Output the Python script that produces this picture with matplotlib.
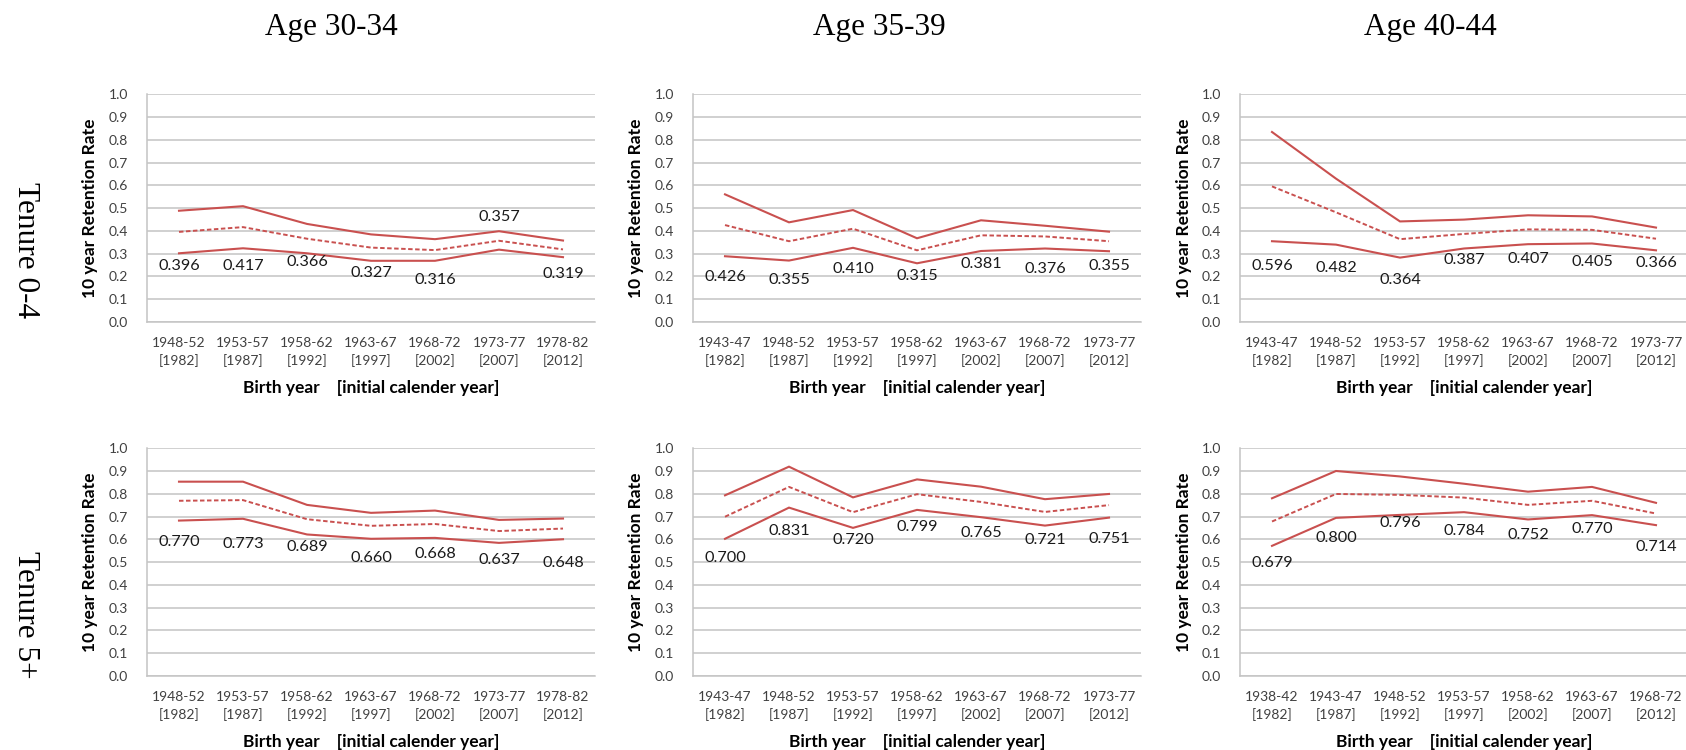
import matplotlib
matplotlib.use("Agg")
import matplotlib.pyplot as plt
import numpy as np

# ---------------- data ----------------
AGE_GROUPS = ["Age 30-34", "Age 35-39", "Age 40-44"]
TENURES = ["Tenure 0-4", "Tenure 5+"]
CAL_YEARS = ["[1982]", "[1987]", "[1992]", "[1997]", "[2002]", "[2007]", "[2012]"]

BIRTH_A3034 = ["1948-52", "1953-57", "1958-62", "1963-67", "1968-72", "1973-77", "1978-82"]
BIRTH_A3539 = ["1943-47", "1948-52", "1953-57", "1958-62", "1963-67", "1968-72", "1973-77"]
BIRTH_A4044_T04 = ["1943-47", "1948-52", "1953-57", "1958-62", "1963-67", "1968-72", "1973-77"]
BIRTH_A4044_T5 = ["1938-42", "1943-47", "1948-52", "1953-57", "1958-62", "1963-67", "1968-72"]

# Tenure 0-4
est_t04_a3034 = [0.396, 0.417, 0.366, 0.327, 0.316, 0.357, 0.319]
upp_t04_a3034 = [0.489, 0.509, 0.431, 0.385, 0.364, 0.399, 0.358]
low_t04_a3034 = [0.302, 0.324, 0.302, 0.269, 0.269, 0.318, 0.285]

est_t04_a3539 = [0.426, 0.355, 0.410, 0.315, 0.381, 0.376, 0.355]
upp_t04_a3539 = [0.561, 0.438, 0.492, 0.368, 0.447, 0.423, 0.397]
low_t04_a3539 = [0.289, 0.270, 0.326, 0.258, 0.312, 0.323, 0.311]

est_t04_a4044 = [0.596, 0.482, 0.364, 0.387, 0.407, 0.405, 0.366]
upp_t04_a4044 = [0.835, 0.630, 0.442, 0.450, 0.469, 0.464, 0.415]
low_t04_a4044 = [0.355, 0.340, 0.283, 0.323, 0.342, 0.345, 0.315]

# Tenure 5+
est_t5_a3034 = [0.770, 0.773, 0.689, 0.660, 0.668, 0.637, 0.648]
upp_t5_a3034 = [0.854, 0.854, 0.752, 0.717, 0.727, 0.686, 0.692]
low_t5_a3034 = [0.683, 0.691, 0.622, 0.603, 0.607, 0.585, 0.601]

est_t5_a3539 = [0.700, 0.831, 0.720, 0.799, 0.765, 0.721, 0.751]
upp_t5_a3539 = [0.794, 0.920, 0.785, 0.864, 0.832, 0.777, 0.800]
low_t5_a3539 = [0.603, 0.740, 0.651, 0.730, 0.698, 0.661, 0.696]

est_t5_a4044 = [0.679, 0.800, 0.796, 0.784, 0.752, 0.770, 0.714]
upp_t5_a4044 = [0.781, 0.901, 0.877, 0.845, 0.810, 0.831, 0.761]
low_t5_a4044 = [0.572, 0.695, 0.708, 0.720, 0.688, 0.707, 0.663]

# ---------------- layout (label placement, in axis units) ----------------
LABEL_Y = {
    (0, 0): [0.248, 0.248, 0.263, 0.215, 0.185, 0.463, 0.212],
    (0, 1): [0.197, 0.185, 0.231, 0.201, 0.253, 0.235, 0.248],
    (0, 2): [0.245, 0.236, 0.184, 0.274, 0.276, 0.263, 0.260],
    (1, 0): [0.588, 0.581, 0.566, 0.518, 0.534, 0.511, 0.498],
    (1, 1): [0.520, 0.639, 0.599, 0.654, 0.629, 0.596, 0.603],
    (1, 2): [0.498, 0.607, 0.672, 0.639, 0.618, 0.644, 0.566],
}

PANELS = {
    (0, 0): (BIRTH_A3034, est_t04_a3034, upp_t04_a3034, low_t04_a3034),
    (0, 1): (BIRTH_A3539, est_t04_a3539, upp_t04_a3539, low_t04_a3539),
    (0, 2): (BIRTH_A4044_T04, est_t04_a4044, upp_t04_a4044, low_t04_a4044),
    (1, 0): (BIRTH_A3034, est_t5_a3034, upp_t5_a3034, low_t5_a3034),
    (1, 1): (BIRTH_A3539, est_t5_a3539, upp_t5_a3539, low_t5_a3539),
    (1, 2): (BIRTH_A4044_T5, est_t5_a4044, upp_t5_a4044, low_t5_a4044),
}

W_PX, H_PX = 1686, 750
RED = "#C9504F"
GRID = "#c4c4c4"
SANS = ["Lato", "DejaVu Sans"]
SERIF = ["Liberation Serif", "DejaVu Serif"]

fig = plt.figure(figsize=(W_PX / 100, H_PX / 100), dpi=100)

col_left = [147, 693, 1240]
row_top = [94, 448]
ax_w, ax_h = 448, 228

for (r, c), (births, est, upp, low) in PANELS.items():
    L = col_left[c] / W_PX
    B = 1 - (row_top[r] + ax_h) / H_PX
    ax = fig.add_axes([L, B, ax_w / W_PX, ax_h / H_PX])
    x = np.arange(len(births))
    ax.plot(x, upp, color=RED, lw=1.5, solid_joinstyle="miter")
    ax.plot(x, low, color=RED, lw=1.5, solid_joinstyle="miter")
    ax.plot(x, est, color=RED, lw=1.4, ls=(0, (2.3, 1.3)))
    for i, v in enumerate(est):
        ax.text(x[i], LABEL_Y[(r, c)][i], f"{v:.3f}", ha="center", va="center",
                fontsize=11.7, family=SANS, color="#1a1a1a")
    ax.set_xlim(-0.5, len(births) - 0.5)
    ax.set_ylim(0, 1.002)
    yt = np.round(np.arange(0, 1.01, 0.1), 1)
    ax.set_yticks(yt)
    ax.set_yticklabels([f"{v:.1f}" for v in yt], family=SANS, fontsize=10, color="#404040")
    ax.set_xticks(x)
    ax.set_xticklabels([f"{b}\n{cy}" for b, cy in zip(births, CAL_YEARS)],
                       family=SANS, fontsize=10, color="#404040", linespacing=1.45)
    ax.tick_params(axis="both", length=0)
    ax.tick_params(axis="y", pad=13.5)
    ax.tick_params(axis="x", pad=11)
    ax.grid(axis="y", color=GRID, lw=1.1)
    ax.set_axisbelow(True)
    for s in ("top", "right"):
        ax.spines[s].set_visible(False)
    for s in ("left", "bottom"):
        ax.spines[s].set_color(GRID)
        ax.spines[s].set_linewidth(1.1)
    ax.set_ylabel("10 year Retention Rate", family=SANS, fontsize=12.5,
                  fontweight="bold", color="#000000", va="center")
    ax.yaxis.set_label_coords(-56.5 / ax_w, 0.5)
    ax.set_xlabel("Birth year    [initial calender year]", family=SANS, fontsize=12.5,
                  fontweight="bold", color="#000000", va="center")
    ax.xaxis.set_label_coords(0.5, -66 / ax_h)

# column titles
title_x = [331, 879, 1430]
for c, t in enumerate(AGE_GROUPS):
    fig.text(title_x[c] / W_PX, 1 - 35 / H_PX, t, ha="center", va="baseline",
             fontsize=22.5, family=SERIF, color="#000000")

# row labels
row_y = [250, 615]
for r, t in enumerate(TENURES):
    fig.text(25 / W_PX, 1 - row_y[r] / H_PX, t, ha="center", va="center",
             rotation=-90, fontsize=22.5, family=SERIF, color="#000000")

fig.savefig("out.png", dpi=100)
